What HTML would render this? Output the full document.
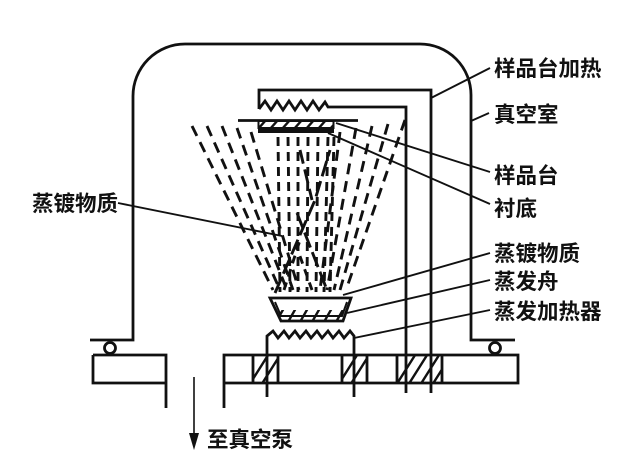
<!DOCTYPE html>
<html><head><meta charset="utf-8"><style>
html,body{margin:0;padding:0;background:#fff;}
svg{display:block;}
text{font-family:"Liberation Sans","Noto Sans CJK SC",sans-serif;font-size:21.5px;font-weight:bold;fill:#111;}
</style></head><body>
<svg width="640" height="468" viewBox="0 0 640 468" xmlns="http://www.w3.org/2000/svg">
<defs>
<clipPath id="b1"><rect x="253" y="355" width="25" height="28"/></clipPath>
<clipPath id="b2"><rect x="342" y="355" width="25" height="28"/></clipPath>
<clipPath id="b3"><rect x="397" y="355" width="45" height="28"/></clipPath>
<clipPath id="sub"><rect x="258" y="121" width="76" height="7"/></clipPath>
<clipPath id="boat"><polygon points="276,310 346,310 342,320 282,320"/></clipPath>
</defs>
<g fill="none" stroke="#111" stroke-width="2.8" stroke-linejoin="miter">
<!-- chamber -->
<path d="M90 340 H133 V96 A52 52 0 0 1 185 44 H420 A51 51 0 0 1 471 95 V340 H515"/>
<circle cx="110" cy="348" r="5.5"/>
<circle cx="495" cy="348" r="5.5"/>
<!-- base plate -->
<path d="M93 355 H166 V408 M93 355 V383 H166"/>
<path d="M224 408 V355 H518 V383 H224"/>
<path d="M253 355 V383 M278 355 V383 M342 355 V383 M367 355 V383 M397 355 V383 M442 355 V383"/>
<!-- top heater -->
<path d="M259 109 V90 H431 V393"/>
<path d="M259 109 L265 101 L271 110 L277 101 L283 110 L289 101 L295 110 L301 101 L307 110 L313 101 L319 110 L325 102 L328 107 H406 V393"/>
<!-- sample stage -->
<path d="M238 120.5 H358"/>
<rect x="258.5" y="121" width="75" height="7" stroke-width="2"/>
<!-- bottom heater -->
<path d="M267 397 V336 L273 331 L278 338 L284 331 L289 338 L295 331 L300 338 L306 331 L311 338 L317 331 L322 338 L328 331 L333 338 L339 331 L344 338 L350 331 L354 336 V397"/>
<!-- boat -->
<polygon points="270,298 351,298 343,321 281,321"/>
<polyline points="275,302 281,316 342,316 347,302" stroke-width="2"/>
</g>
<!-- substrate thick bar -->
<rect x="258" y="127" width="76" height="6" fill="#111"/>
<!-- hatches -->
<g stroke="#111" stroke-width="2.4">
<g clip-path="url(#sub)"><path d="M258 129 L266 120 M270 129 L278 120 M282 129 L290 120 M294 129 L302 120 M306 129 L314 120 M318 129 L326 120 M330 129 L338 120"/></g>
<g clip-path="url(#b1)"><path d="M246 390 L270 352 M258 390 L282 352"/></g>
<g clip-path="url(#b2)"><path d="M335 390 L359 352 M347 390 L371 352"/></g>
<g clip-path="url(#b3)"><path d="M393 390 L417 352 M405 390 L429 352 M417 390 L441 352 M429 390 L453 352"/></g>
<g clip-path="url(#boat)"><path d="M276 322 L284 308 M288 322 L296 308 M300 322 L308 308 M312 322 L320 308 M324 322 L332 308 M336 322 L344 308"/></g>
</g>
<!-- spray -->
<g stroke="#111" stroke-width="2.9" stroke-dasharray="11 7" fill="none">
<path d="M192 126 L273 290"/>
<path d="M207 126 L280 290"/>
<path d="M222 126 L287 290"/>
<path d="M237 128 L293 290"/>
<path d="M251 132 L299 290"/>
<path d="M340 132 L320 290"/>
<path d="M356 128 L327 290"/>
<path d="M372 126 L334 290"/>
<path d="M388 124 L340 290"/>
<path d="M405 120 L346 290"/>
<path d="M278 137 L280 292" stroke-dasharray="9 6"/>
<path d="M288 137 L290 292" stroke-dasharray="9 6"/>
<path d="M298 137 L298 292" stroke-dasharray="9 6"/>
<path d="M308 137 L307 292" stroke-dasharray="9 6"/>
<path d="M318 137 L316 292" stroke-dasharray="9 6"/>
<path d="M328 137 L324 292" stroke-dasharray="9 6"/>
<path d="M334 137 L330 292" stroke-dasharray="9 6"/>
<path d="M275 293 L315 200 L330 150" stroke-dasharray="16 5"/>
<path d="M297 213 L327 290" stroke-dasharray="16 5"/>
<path d="M300 150 L312 200" stroke-dasharray="14 6"/>
<path d="M284 290 L300 240" stroke-dasharray="8 6"/>
<path d="M312 290 L296 245" stroke-dasharray="8 6"/>
</g>
<!-- leaders -->
<g stroke="#111" stroke-width="1.9" fill="none">
<path d="M431 98 L490 68"/>
<path d="M471 121 L489 113"/>
<path d="M336 123 L490 172"/>
<path d="M328 133 L490 204"/>
<path d="M343 295 L490 253"/>
<path d="M347 313 L490 280"/>
<path d="M354 338 L490 310"/>
<path d="M118 203 L282 236"/>
<path d="M194 377 V436" stroke-width="1.6"/>
</g>
<polygon points="189,433 199,433 194,450" fill="#111"/>
<!-- labels -->
<text x="494" y="76">样品台加热</text>
<text x="494" y="122">真空室</text>
<text x="494" y="183">样品台</text>
<text x="494" y="216">衬底</text>
<text x="494" y="261">蒸镀物质</text>
<text x="494" y="289">蒸发舟</text>
<text x="494" y="319">蒸发加热器</text>
<text x="32" y="211">蒸镀物质</text>
<text x="207" y="447">至真空泵</text>
</svg>
</body></html>
